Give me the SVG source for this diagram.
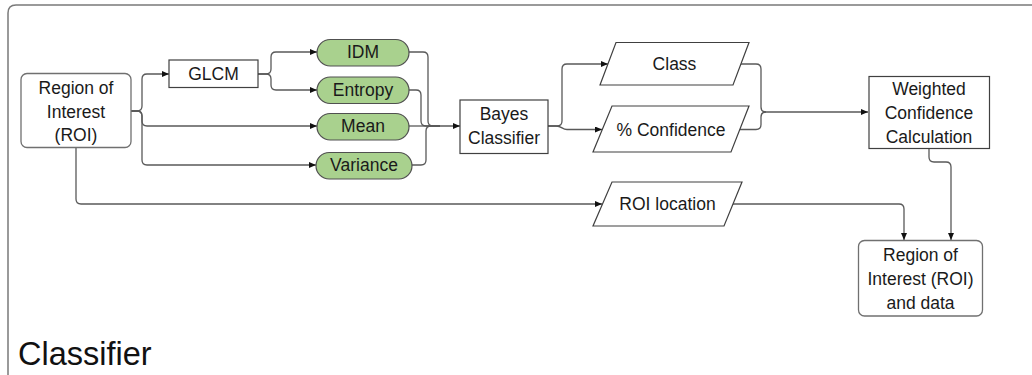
<svg xmlns="http://www.w3.org/2000/svg" width="1032" height="375" viewBox="0 0 1032 375">
<style>
text{font-family:"Liberation Sans",Arial,sans-serif;font-size:17.5px;fill:#1a1a1a;text-anchor:middle}
.box{fill:#fff;stroke:#404040;stroke-width:1.2}
.rbox{fill:#fff;stroke:#707070;stroke-width:1.3}
.pill{fill:#a9d18e;stroke:#505050;stroke-width:1.2}
.para{fill:#fff;stroke:#404040;stroke-width:1.2}
.c{fill:none;stroke:#595959;stroke-width:1.3}
.ca{fill:none;stroke:#595959;stroke-width:1.3;marker-end:url(#ah)}
.title{font-size:32.5px;text-anchor:start;fill:#111}
</style>
<defs>
<marker id="ah" markerWidth="7" markerHeight="6" refX="7" refY="3" orient="auto" markerUnits="userSpaceOnUse">
<path d="M0,0 L7,3 L0,6 Z" fill="#111"/>
</marker>
</defs>
<rect width="1032" height="375" fill="#fff"/>
<path d="M8,375 V13 Q8,5 16,5 H1032" fill="none" stroke="#7a7a7a" stroke-width="1.5"/>
<text class="title" x="18" y="365">Classifier</text>

<g id="connectors">
<path class="ca" d="M131,111 H137 Q142,111 142,106 V79 Q142,74 147,74 H169"/>
<path class="ca" d="M131,111 H137 Q142,111 142,116 V121 Q142,126 147,126 H317"/>
<path class="ca" d="M131,111 H137 Q142,111 142,116 V160 Q142,165 147,165 H316"/>
<path class="ca" d="M258,74 H266 Q271,74 271,69 V57 Q271,52 276,52 H317"/>
<path class="ca" d="M258,74 H266 Q271,74 271,79 V85 Q271,90 276,90 H317"/>
<path class="ca" d="M409,52 H423 Q428,52 428,57 V121 Q428,126 433,126 H460"/>
<path class="c" d="M409,90 H416 Q421,90 421,95 V121 Q421,126 426,126 H440"/>
<path class="c" d="M409,126 H440"/>
<path class="c" d="M412,165 H421 Q426,165 426,160 V131 Q426,126 431,126 H440"/>
<path class="ca" d="M548,126 H557 Q562,126 562,121 V69 Q562,64 567,64 H608"/>
<path class="ca" d="M548,126 H556 C562,126 562,129.5 567,129.5 H602"/>
<path class="c" d="M741,64 H756 Q761,64 761,69 V107 Q761,112 766,112"/>
<path class="ca" d="M740,129.5 H756 Q761,129.5 761,124.5 V117 Q761,112 766,112 H868"/>
<path class="ca" d="M929,148 V157 Q929,162 934,162 H946 Q951,162 951,167 V240"/>
<path class="ca" d="M76,148 V199 Q76,204 81,204 H602"/>
<path class="ca" d="M733,204 H899 Q904,204 904,209 V240"/>
</g>

<g id="roi">
<rect class="rbox" x="21" y="73.5" width="110" height="74" rx="6"/>
<text x="76" y="94">Region of</text>
<text x="76" y="118">Interest</text>
<text x="76" y="141">(ROI)</text>
</g>
<g id="glcm">
<rect class="box" x="169" y="60" width="89" height="27.5"/>
<text x="213.5" y="80">GLCM</text>
</g>
<g id="idm">
<rect class="pill" x="317" y="39.5" width="92" height="26.5" rx="13.25"/>
<text x="363" y="58">IDM</text>
</g>
<g id="entropy">
<rect class="pill" x="317" y="77" width="92" height="26.5" rx="13.25"/>
<text x="363" y="95.5">Entropy</text>
</g>
<g id="mean">
<rect class="pill" x="317" y="113.5" width="92" height="26.5" rx="13.25"/>
<text x="363" y="132">Mean</text>
</g>
<g id="variance">
<rect class="pill" x="316" y="152.5" width="96" height="26.5" rx="13.25"/>
<text x="364" y="171">Variance</text>
</g>
<g id="bayes">
<rect class="box" x="460" y="100" width="88" height="53.5"/>
<text x="504" y="120">Bayes</text>
<text x="504" y="144">Classifier</text>
</g>
<g id="class">
<polygon class="para" points="616,42.5 749,42.5 733,85 600,85"/>
<text x="674.5" y="69.5">Class</text>
</g>
<g id="confidence">
<polygon class="para" points="612,106 749,106 731,152 593,152"/>
<text x="671" y="135.5">% Confidence</text>
</g>
<g id="roilocation">
<polygon class="para" points="612,182 742,182 724,226 593,226"/>
<text x="667.5" y="210">ROI location</text>
</g>
<g id="weighted">
<rect class="box" x="869" y="76.5" width="120.5" height="72"/>
<text x="929" y="95">Weighted</text>
<text x="929" y="119">Confidence</text>
<text x="929" y="143">Calculation</text>
</g>
<g id="roidata">
<rect class="rbox" x="858.5" y="240.5" width="124" height="75.5" rx="6"/>
<text x="920.5" y="261">Region of</text>
<text x="920.5" y="285">Interest (ROI)</text>
<text x="920.5" y="309">and data</text>
</g>
</svg>
